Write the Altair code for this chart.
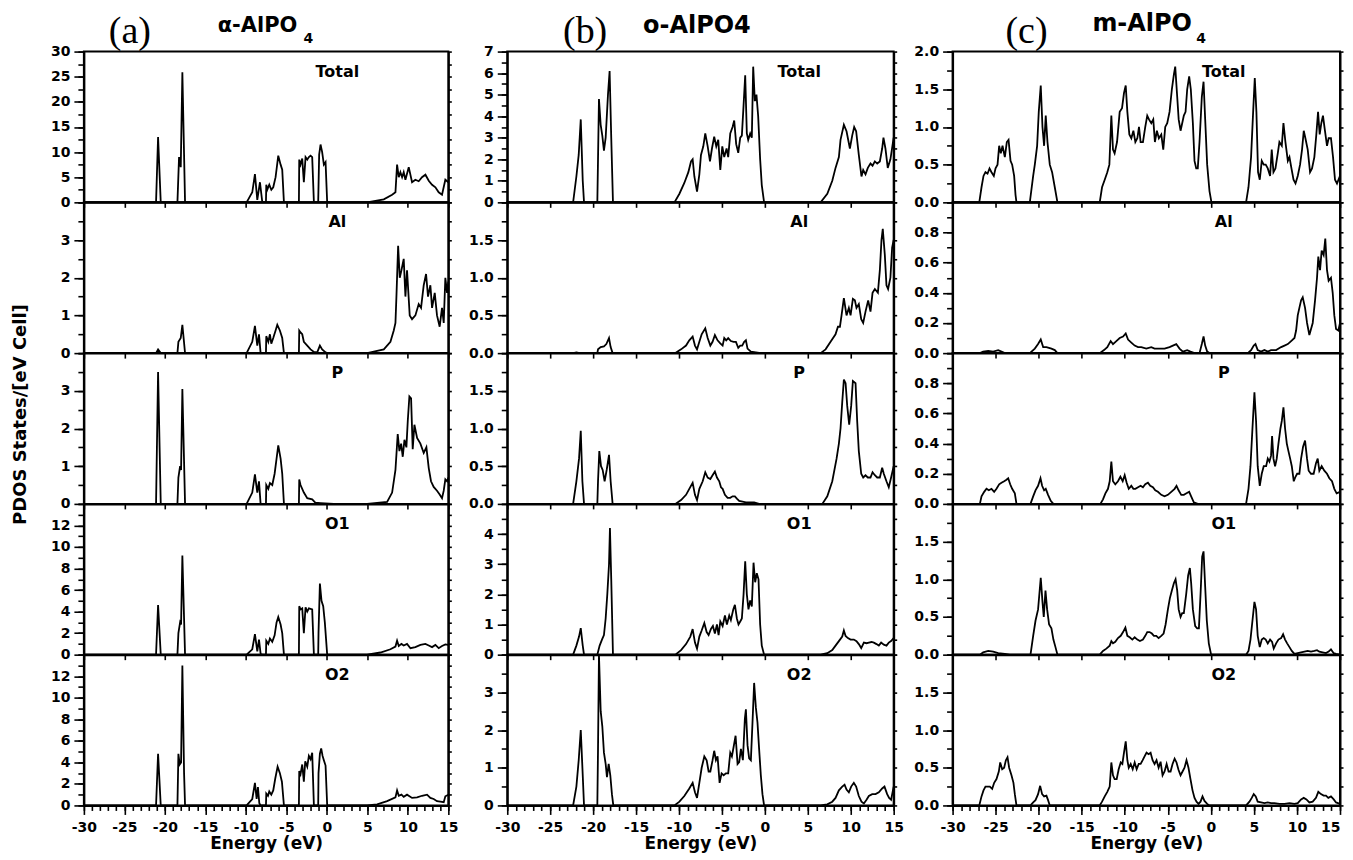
import altair as alt
import pandas as pd
import numpy as np

FONT = "DejaVu Sans"
SERIF = "Liberation Serif"
E_MIN, E_MAX = -30, 15
PANEL_H = 151
ROW_NAMES = ["Total", "Al", "P", "O1", "O2"]

# ---------------- (a) alpha-AlPO4 : (energy eV, PDOS) ----------------
A_TOTAL = [(-30, 0), (-21.09, 0), (-20.84, 13.0), (-20.51, 0), (-18.45, 0), (-18.25, 9.0), (-18.04, 7.0),
           (-17.84, 25.9), (-17.51, 0), (-9.91, 0), (-9.21, 2.0), (-8.88, 5.6), (-8.59, 0.5), (-8.26, 4.0),
           (-7.97, 0), (-7.52, 0), (-7.48, 3.5), (-7.36, 2.5), (-7.11, 3.5), (-6.86, 2.5), (-6.62, 3.0),
           (-6.33, 5.0), (-6.00, 9.3), (-5.71, 7.5), (-5.51, 6.5), (-5.30, 0), (-3.45, 0), (-3.41, 8.5),
           (-3.25, 7.5), (-3.04, 8.7), (-2.84, 4.0), (-2.63, 9.0), (-2.42, 8.5), (-2.22, 9.0), (-2.01, 9.3),
           (-1.81, 9.0), (-1.60, 0), (-1.07, 0), (-0.95, 9.5), (-0.78, 11.5), (-0.58, 10.0), (-0.37, 7.5),
           (-0.16, 8.0), (0.04, 0), (4.97, 0), (7.03, 0.6), (8.06, 1.5), (8.47, 2.0), (8.67, 7.5), (8.88, 5.0),
           (9.08, 6.0), (9.29, 5.0), (9.49, 6.0), (9.70, 4.5), (10.11, 7.0), (10.52, 4.0), (10.93, 4.5),
           (11.34, 4.2), (11.75, 5.0), (12.17, 5.5), (12.58, 4.3), (12.99, 3.5), (13.40, 3.0), (13.81, 2.0),
           (14.22, 1.5), (14.63, 4.5), (15.0, 4.0)]
A_AL = [(-30, 0), (-21.09, 0), (-20.84, 0.1), (-20.51, 0), (-18.45, 0), (-18.33, 0.3), (-18.04, 0.4),
        (-17.84, 0.75), (-17.51, 0), (-9.91, 0), (-9.21, 0.3), (-8.88, 0.72), (-8.59, 0.2), (-8.38, 0.5),
        (-8.18, 0), (-7.52, 0), (-7.48, 0.45), (-7.23, 0.3), (-7.03, 0.5), (-6.86, 0.25), (-6.62, 0.4),
        (-6.33, 0.6), (-6.12, 0.75), (-5.80, 0.6), (-5.51, 0.4), (-5.30, 0), (-3.45, 0), (-3.41, 0.6),
        (-3.25, 0.55), (-3.04, 0.5), (-2.84, 0.3), (-2.42, 0.2), (-2.01, 0.1), (-1.60, 0.03), (-1.19, 0.02),
        (-0.86, 0.2), (-0.58, 0.1), (-0.16, 0.02), (0.04, 0), (4.97, 0), (7.03, 0.1), (7.85, 0.3), (8.26, 0.6),
        (8.47, 0.8), (8.59, 1.5), (8.80, 2.85), (9.00, 2.0), (9.21, 2.2), (9.49, 2.5), (9.70, 1.5), (9.90, 2.2),
        (10.23, 1.0), (10.52, 0.9), (10.93, 1.0), (11.34, 1.3), (11.63, 1.2), (11.96, 1.8), (12.25, 2.1),
        (12.49, 1.5), (12.78, 1.8), (12.99, 1.2), (13.32, 1.6), (13.60, 1.0), (13.93, 0.7), (14.22, 1.2),
        (14.43, 0.8), (14.63, 2.0), (14.84, 1.6), (15.0, 1.9)]
A_P = [(-30, 0), (-21.09, 0), (-20.84, 3.5), (-20.51, 0), (-18.45, 0), (-18.33, 0.7), (-18.12, 1.0),
       (-18.00, 0.9), (-17.84, 3.05), (-17.51, 0), (-9.91, 0), (-9.21, 0.3), (-8.88, 0.78), (-8.59, 0.3),
       (-8.38, 0.6), (-8.18, 0), (-7.52, 0), (-7.48, 0.5), (-7.23, 0.4), (-7.03, 0.55), (-6.74, 0.5),
       (-6.45, 0.8), (-6.21, 1.2), (-6.00, 1.55), (-5.71, 1.2), (-5.51, 0.8), (-5.30, 0), (-3.45, 0),
       (-3.41, 0.65), (-3.25, 0.5), (-2.84, 0.3), (-2.42, 0.15), (-1.81, 0.12), (-1.40, 0.03), (-0.78, 0.02),
       (0.86, 0), (4.97, 0), (7.44, 0.05), (8.06, 0.3), (8.47, 0.9), (8.75, 1.85), (8.96, 1.4), (9.17, 1.6),
       (9.37, 1.25), (9.58, 1.7), (9.82, 1.5), (9.99, 2.2), (10.19, 2.85), (10.40, 2.8), (10.60, 1.45),
       (10.81, 2.1), (11.14, 1.75), (11.55, 1.6), (11.96, 1.35), (12.29, 1.5), (12.58, 0.95), (12.86, 0.6),
       (13.19, 0.45), (13.60, 0.35), (13.93, 0.25), (14.22, 0.15), (14.43, 0.35), (14.63, 0.65), (14.84, 0.6),
       (15.0, 0.7)]
A_O1 = [(-30, 0), (-21.09, 0), (-20.84, 4.6), (-20.51, 0), (-18.45, 0), (-18.33, 2.0), (-18.12, 3.0),
        (-18.00, 2.8), (-17.84, 9.2), (-17.51, 0), (-9.91, 0), (-9.21, 0.5), (-8.88, 1.9), (-8.59, 0.3),
        (-8.38, 1.4), (-8.18, 0.1), (-7.97, 0), (-7.52, 0), (-7.48, 1.3), (-7.23, 1.0), (-7.03, 1.5),
        (-6.74, 1.2), (-6.45, 1.8), (-6.21, 3.0), (-6.00, 3.5), (-5.71, 2.8), (-5.51, 2.0), (-5.30, 0),
        (-3.45, 0), (-3.41, 4.5), (-3.25, 4.2), (-3.04, 4.3), (-2.84, 2.0), (-2.63, 4.4), (-2.42, 4.0),
        (-2.22, 4.3), (-1.81, 4.2), (-1.60, 0), (-1.07, 0), (-1.03, 2.0), (-0.86, 6.6), (-0.66, 5.0),
        (-0.45, 4.5), (-0.25, 3.0), (0.04, 0), (4.97, 0), (6.62, 0.2), (7.85, 0.5), (8.47, 0.75), (8.67, 1.3),
        (8.88, 0.8), (9.21, 1.0), (9.49, 0.85), (9.90, 1.0), (10.32, 0.6), (10.93, 0.7), (11.55, 0.9),
        (12.17, 1.0), (12.58, 0.85), (12.99, 0.7), (13.40, 0.9), (13.81, 0.6), (14.22, 0.8), (14.63, 0.95),
        (15.0, 0.9)]
A_O2 = [(-30, 0), (-21.09, 0), (-20.84, 4.8), (-20.51, 0), (-18.45, 0), (-18.33, 4.8), (-18.17, 3.8),
        (-18.00, 4.0), (-17.84, 13.0), (-17.63, 3.0), (-17.51, 0), (-9.91, 0), (-9.21, 0.6), (-8.88, 2.1),
        (-8.67, 0.6), (-8.51, 1.7), (-8.34, 0.2), (-8.18, 0), (-7.52, 0), (-7.48, 1.1), (-7.27, 0.9),
        (-7.11, 1.3), (-6.86, 1.0), (-6.62, 1.4), (-6.37, 2.5), (-6.08, 3.6), (-5.80, 3.0), (-5.55, 2.2),
        (-5.30, 0), (-3.45, 0), (-3.41, 3.2), (-3.25, 2.9), (-3.04, 3.8), (-2.84, 2.2), (-2.67, 4.1),
        (-2.42, 3.6), (-2.22, 4.6), (-2.01, 4.3), (-1.81, 4.9), (-1.60, 0), (-1.07, 0), (-1.03, 3.0),
        (-0.86, 4.8), (-0.70, 5.3), (-0.53, 4.6), (-0.37, 4.2), (-0.16, 3.7), (0.04, 0), (4.97, 0),
        (6.21, 0.1), (7.44, 0.4), (8.47, 0.75), (8.67, 1.4), (8.88, 0.9), (9.21, 1.0), (9.49, 0.8),
        (9.90, 1.0), (10.52, 0.7), (11.14, 0.75), (11.75, 0.9), (12.37, 1.0), (12.78, 0.7), (13.19, 0.6),
        (13.60, 0.4), (14.02, 0.35), (14.43, 0.3), (14.63, 0.85), (15.0, 1.0)]

# ---------------- (b) o-AlPO4 ----------------
B_TOTAL = [(-30, 0), (-22.33, 0), (-21.95, 1.2), (-21.68, 2.2), (-21.44, 3.85), (-21.21, 1.0), (-21.06, 0),
           (-19.51, 0), (-19.43, 2.0), (-19.32, 4.8), (-19.12, 3.6), (-18.93, 3.1), (-18.74, 2.4), (-18.54, 3.0),
           (-18.27, 5.0), (-18.08, 6.1), (-17.89, 3.0), (-17.69, 0), (-10.53, 0), (-9.95, 0.4), (-9.38, 0.9),
           (-8.91, 1.4), (-8.60, 1.9), (-8.41, 2.0), (-8.21, 1.2), (-7.90, 0.5), (-7.63, 1.3), (-7.44, 2.2),
           (-7.17, 2.6), (-6.94, 3.2), (-6.66, 2.6), (-6.39, 1.9), (-6.16, 2.5), (-5.90, 3.05), (-5.66, 2.6),
           (-5.43, 2.9), (-5.19, 1.5), (-4.96, 2.6), (-4.73, 2.1), (-4.46, 2.5), (-4.27, 2.1), (-4.03, 3.2),
           (-3.76, 3.5), (-3.57, 3.8), (-3.34, 2.7), (-3.10, 2.3), (-2.87, 3.0), (-2.68, 3.1), (-2.48, 4.5),
           (-2.29, 5.9), (-2.10, 3.2), (-1.94, 2.9), (-1.71, 3.2), (-1.52, 3.0), (-1.36, 6.3), (-1.17, 4.7),
           (-0.98, 5.0), (-0.78, 4.0), (-0.55, 2.0), (-0.36, 0.8), (-0.09, 0), (6.49, 0), (7.27, 0.4),
           (7.85, 1.0), (8.23, 1.6), (8.62, 2.1), (8.81, 2.9), (9.20, 3.6), (9.51, 3.3), (9.90, 2.5),
           (10.17, 3.1), (10.40, 3.5), (10.63, 3.3), (10.94, 2.2), (11.25, 1.2), (11.45, 1.5), (11.72, 1.3),
           (11.99, 1.6), (12.30, 1.8), (12.54, 1.7), (12.81, 1.9), (13.08, 1.8), (13.39, 1.9), (13.66, 2.5),
           (13.81, 3.0), (14.04, 2.5), (14.31, 1.6), (14.62, 2.0), (15.0, 3.0)]
B_AL = [(-30, 0), (-22.33, 0), (-21.95, 0.01), (-21.56, 0.0), (-21.37, -0.01), (-21.06, 0), (-19.51, 0),
        (-19.43, 0.05), (-19.12, 0.08), (-18.74, 0.09), (-18.46, 0.12), (-18.15, 0.2), (-17.96, 0.08),
        (-17.73, 0), (-10.42, 0), (-9.76, 0.05), (-9.18, 0.1), (-8.80, 0.17), (-8.41, 0.22), (-8.14, 0.1),
        (-7.90, 0.05), (-7.63, 0.15), (-7.36, 0.25), (-6.94, 0.33), (-6.66, 0.2), (-6.35, 0.1), (-6.09, 0.15),
        (-5.82, 0.24), (-5.51, 0.17), (-5.19, 0.13), (-4.92, 0.1), (-4.73, 0.2), (-4.50, 0.17), (-4.27, 0.2),
        (-3.96, 0.16), (-3.64, 0.15), (-3.37, 0.15), (-3.10, 0.07), (-2.87, 0.1), (-2.64, 0.1), (-2.41, 0.15),
        (-2.21, 0.17), (-2.02, 0.06), (-1.63, 0.02), (-1.05, 0.01), (-0.47, 0), (6.49, 0), (7.07, 0.05),
        (7.65, 0.15), (8.23, 0.25), (8.51, 0.35), (8.74, 0.35), (8.93, 0.5), (9.20, 0.73), (9.51, 0.5),
        (9.78, 0.6), (9.98, 0.5), (10.25, 0.72), (10.48, 0.7), (10.67, 0.6), (10.94, 0.65), (11.22, 0.45),
        (11.45, 0.4), (11.72, 0.55), (12.03, 0.7), (12.30, 0.55), (12.54, 0.8), (12.81, 0.85), (13.16, 0.8),
        (13.39, 1.1), (13.58, 1.5), (13.73, 1.65), (13.97, 1.3), (14.16, 0.9), (14.35, 0.85), (14.62, 1.0),
        (14.82, 1.4), (15.0, 1.5)]
B_P = [(-30, 0), (-22.33, 0), (-21.95, 0.3), (-21.64, 0.6), (-21.44, 0.97), (-21.25, 0.3), (-21.06, 0),
       (-19.51, 0), (-19.43, 0.3), (-19.28, 0.7), (-19.08, 0.5), (-18.89, 0.45), (-18.66, 0.3), (-18.42, 0.45),
       (-18.15, 0.65), (-17.96, 0.3), (-17.73, 0), (-10.42, 0), (-9.76, 0.05), (-9.18, 0.12), (-8.80, 0.2),
       (-8.41, 0.28), (-8.14, 0.12), (-7.90, 0.05), (-7.63, 0.2), (-7.24, 0.3), (-6.94, 0.42), (-6.66, 0.35),
       (-6.35, 0.33), (-6.09, 0.38), (-5.82, 0.43), (-5.58, 0.35), (-5.31, 0.3), (-5.11, 0.22), (-4.92, 0.2),
       (-4.65, 0.12), (-4.34, 0.08), (-4.03, 0.08), (-3.76, 0.1), (-3.49, 0.1), (-3.26, 0.07), (-2.99, 0.04),
       (-2.60, 0.03), (-2.21, 0.02), (-1.83, 0.02), (-1.25, 0.02), (-0.67, 0), (6.69, 0), (7.27, 0.1),
       (7.85, 0.3), (8.35, 0.6), (8.62, 0.8), (8.81, 1.0), (9.01, 1.35), (9.20, 1.65), (9.40, 1.6),
       (9.59, 1.3), (9.82, 1.05), (10.05, 1.3), (10.25, 1.63), (10.56, 1.6), (10.75, 1.1), (10.94, 0.7),
       (11.22, 0.4), (11.45, 0.35), (11.72, 0.38), (11.99, 0.35), (12.30, 0.35), (12.54, 0.42), (12.81, 0.38),
       (13.08, 0.35), (13.39, 0.35), (13.66, 0.48), (13.85, 0.4), (14.16, 0.3), (14.43, 0.22), (14.70, 0.35),
       (15.0, 0.5)]
B_O1 = [(-30, 0), (-22.33, 0), (-21.95, 0.3), (-21.64, 0.6), (-21.44, 0.88), (-21.21, 0.3), (-21.06, 0),
        (-19.51, 0), (-19.24, 0.3), (-18.97, 0.5), (-18.74, 0.65), (-18.54, 1.2), (-18.35, 2.0), (-18.15, 3.0),
        (-18.04, 4.2), (-17.89, 2.5), (-17.69, 0), (-10.42, 0), (-9.76, 0.15), (-9.18, 0.35), (-8.68, 0.6),
        (-8.41, 0.85), (-8.14, 0.4), (-7.90, 0.2), (-7.63, 0.6), (-7.36, 0.8), (-7.05, 1.05), (-6.78, 0.75),
        (-6.55, 0.65), (-6.28, 0.85), (-6.05, 0.95), (-5.82, 0.7), (-5.58, 1.0), (-5.39, 0.65), (-5.19, 1.1),
        (-4.92, 0.95), (-4.65, 1.3), (-4.42, 1.0), (-4.15, 1.3), (-3.96, 1.15), (-3.68, 1.5), (-3.49, 1.65),
        (-3.26, 1.2), (-3.07, 1.0), (-2.87, 1.1), (-2.68, 1.2), (-2.48, 2.0), (-2.29, 3.1), (-2.10, 2.0),
        (-1.91, 1.5), (-1.71, 1.8), (-1.52, 1.6), (-1.32, 3.05), (-1.13, 2.4), (-0.94, 2.7), (-0.74, 2.5),
        (-0.55, 1.0), (-0.36, 0.3), (-0.09, 0), (6.49, 0), (7.27, 0.05), (7.85, 0.15), (8.23, 0.3),
        (8.62, 0.45), (9.01, 0.6), (9.20, 0.8), (9.40, 0.62), (9.67, 0.55), (9.98, 0.5), (10.36, 0.5),
        (10.67, 0.45), (10.94, 0.35), (11.22, 0.22), (11.53, 0.4), (11.84, 0.38), (12.11, 0.4), (12.42, 0.42),
        (12.69, 0.4), (13.00, 0.35), (13.27, 0.3), (13.54, 0.4), (13.85, 0.33), (14.16, 0.3), (14.43, 0.4),
        (14.70, 0.45), (15.0, 0.55)]
B_O2 = [(-30, 0), (-22.33, 0), (-21.95, 0.5), (-21.68, 1.2), (-21.44, 2.0), (-21.21, 0.8), (-21.06, 0),
        (-19.51, 0), (-19.43, 1.5), (-19.32, 4.0), (-19.12, 2.5), (-18.93, 2.1), (-18.74, 1.4), (-18.54, 1.1),
        (-18.39, 0.75), (-18.19, 1.1), (-18.00, 0.8), (-17.81, 0.3), (-17.65, 0), (-10.53, 0), (-9.95, 0.1),
        (-9.38, 0.25), (-8.80, 0.45), (-8.41, 0.6), (-8.14, 0.35), (-7.90, 0.2), (-7.63, 0.6), (-7.36, 1.0),
        (-7.05, 1.3), (-6.78, 1.2), (-6.55, 0.9), (-6.35, 0.9), (-6.09, 1.2), (-5.90, 1.45), (-5.70, 1.2),
        (-5.51, 1.3), (-5.27, 0.6), (-5.04, 0.85), (-4.80, 0.8), (-4.54, 0.85), (-4.27, 0.85), (-4.03, 1.4),
        (-3.84, 1.3), (-3.64, 1.55), (-3.41, 1.85), (-3.18, 1.1), (-2.99, 1.15), (-2.79, 1.5), (-2.56, 1.2),
        (-2.33, 2.3), (-2.21, 2.55), (-2.02, 1.6), (-1.83, 1.25), (-1.63, 1.2), (-1.44, 2.2), (-1.25, 3.25),
        (-1.05, 2.6), (-0.86, 2.2), (-0.67, 1.5), (-0.47, 0.8), (-0.28, 0.3), (-0.09, 0), (6.49, 0),
        (7.27, 0.03), (7.85, 0.1), (8.23, 0.2), (8.62, 0.4), (9.01, 0.5), (9.28, 0.55), (9.51, 0.42),
        (9.78, 0.35), (10.05, 0.5), (10.36, 0.6), (10.63, 0.5), (10.94, 0.25), (11.25, 0.1), (11.53, 0.05),
        (11.84, 0.15), (12.11, 0.25), (12.50, 0.3), (12.89, 0.3), (13.27, 0.35), (13.66, 0.45), (13.93, 0.5),
        (14.24, 0.3), (14.47, 0.2), (14.70, 0.15), (15.0, 0.5)]

# ---------------- (c) m-AlPO4 ----------------
C_TOTAL = [(-30, 0), (-26.90, 0), (-26.64, 0.2), (-26.41, 0.35), (-26.18, 0.4), (-25.94, 0.38), (-25.71, 0.45),
           (-25.48, 0.4), (-25.21, 0.35), (-25.01, 0.45), (-24.78, 0.5), (-24.59, 0.75), (-24.40, 0.65),
           (-24.20, 0.75), (-23.93, 0.6), (-23.70, 0.8), (-23.50, 0.83), (-23.27, 0.55), (-23.08, 0.5),
           (-22.85, 0.35), (-22.69, 0.1), (-22.58, 0), (-21.03, 0), (-20.64, 0.35), (-20.45, 0.5), (-20.18, 0.75),
           (-19.99, 1.2), (-19.76, 1.55), (-19.56, 1.0), (-19.37, 0.75), (-19.18, 1.15), (-18.98, 0.8),
           (-18.71, 0.5), (-18.44, 0.4), (-18.13, 0.2), (-17.82, 0), (-12.91, 0), (-12.64, 0.2), (-12.33, 0.3),
           (-12.03, 0.4), (-11.79, 0.5), (-11.56, 1.15), (-11.37, 0.7), (-11.18, 0.65), (-10.90, 0.8),
           (-10.59, 1.2), (-10.32, 1.25), (-10.09, 1.45), (-9.89, 1.55), (-9.70, 1.2), (-9.47, 0.9), (-9.24, 0.85),
           (-9.00, 0.95), (-8.77, 0.8), (-8.54, 0.85), (-8.35, 1.0), (-8.16, 0.8), (-7.89, 0.8), (-7.62, 1.0),
           (-7.39, 1.15), (-7.19, 1.1), (-6.92, 1.05), (-6.69, 1.1), (-6.50, 0.8), (-6.27, 0.95), (-6.04, 0.85),
           (-5.76, 0.9), (-5.53, 0.7), (-5.30, 1.0), (-5.07, 1.05), (-4.80, 1.2), (-4.53, 1.5), (-4.29, 1.7),
           (-4.14, 1.8), (-3.91, 1.4), (-3.74, 1.1), (-3.52, 0.95), (-3.33, 1.05), (-3.14, 1.15), (-2.94, 1.2),
           (-2.75, 1.5), (-2.52, 1.67), (-2.33, 1.5), (-2.09, 1.05), (-1.90, 0.55), (-1.70, 0.45), (-1.52, 0.45),
           (-1.32, 0.8), (-1.05, 1.4), (-0.85, 1.6), (-0.66, 1.1), (-0.43, 0.5), (-0.16, 0.15), (0.07, 0),
           (4.09, 0), (4.37, 0.2), (4.67, 0.6), (4.91, 1.2), (5.10, 1.65), (5.29, 1.2), (5.48, 0.4), (5.68, 0.3),
           (5.91, 0.55), (6.14, 0.5), (6.37, 0.5), (6.61, 0.45), (6.88, 0.35), (7.07, 0.7), (7.27, 0.4),
           (7.50, 0.45), (7.77, 0.65), (7.96, 0.8), (8.24, 0.75), (8.43, 1.05), (8.66, 0.8), (8.94, 0.55),
           (9.13, 0.6), (9.36, 0.45), (9.60, 0.3), (9.83, 0.25), (10.09, 0.35), (10.36, 0.5), (10.59, 0.7),
           (10.79, 0.95), (10.98, 0.85), (11.25, 0.7), (11.52, 0.4), (11.75, 0.45), (12.02, 0.6), (12.25, 0.9),
           (12.45, 1.2), (12.64, 0.9), (12.83, 1.05), (13.02, 1.15), (13.25, 0.95), (13.49, 0.75), (13.68, 0.85),
           (13.95, 0.85), (14.19, 0.6), (14.42, 0.3), (14.65, 0.25), (15.0, 0.35)]
C_AL = [(-30, 0), (-26.83, 0), (-26.45, 0.01), (-25.86, 0.015), (-25.28, 0.01), (-24.70, 0.02), (-24.32, 0.01),
        (-23.93, 0), (-21.03, 0), (-20.45, 0.03), (-20.07, 0.06), (-19.76, 0.09), (-19.48, 0.04), (-19.10, 0.04),
        (-18.52, 0.03), (-18.13, 0.02), (-17.82, 0), (-12.91, 0), (-12.41, 0.02), (-12.03, 0.04), (-11.64, 0.08),
        (-11.37, 0.06), (-10.98, 0.08), (-10.59, 0.1), (-10.20, 0.11), (-9.89, 0.13), (-9.62, 0.09),
        (-9.24, 0.07), (-8.85, 0.05), (-8.46, 0.04), (-8.08, 0.04), (-7.50, 0.03), (-6.92, 0.04), (-6.54, 0.03),
        (-5.96, 0.03), (-5.38, 0.03), (-4.80, 0.04), (-4.41, 0.05), (-4.02, 0.06), (-3.64, 0.03), (-3.25, 0.01),
        (-2.75, 0.02), (-2.37, 0.01), (-1.90, 0.0), (-1.32, 0.0), (-1.05, 0.06), (-0.85, 0.11), (-0.66, 0.05),
        (-0.43, 0.01), (-0.16, 0), (4.29, 0), (4.67, 0.02), (4.98, 0.05), (5.18, 0.06), (5.44, 0.02),
        (5.83, 0.01), (6.22, 0.02), (6.61, 0.01), (6.99, 0.02), (7.58, 0.02), (8.16, 0.04), (8.55, 0.05),
        (8.94, 0.06), (9.32, 0.08), (9.71, 0.1), (9.90, 0.15), (10.09, 0.25), (10.28, 0.3), (10.48, 0.35),
        (10.67, 0.37), (10.94, 0.3), (11.17, 0.2), (11.44, 0.12), (11.83, 0.2), (12.10, 0.35), (12.33, 0.5),
        (12.48, 0.64), (12.68, 0.55), (12.87, 0.68), (13.10, 0.65), (13.29, 0.76), (13.49, 0.55), (13.68, 0.48),
        (13.95, 0.5), (14.15, 0.4), (14.34, 0.25), (14.54, 0.16), (14.81, 0.15), (15.0, 0.2)]
C_P = [(-30, 0), (-26.83, 0), (-26.64, 0.05), (-26.33, 0.08), (-26.06, 0.1), (-25.79, 0.09), (-25.48, 0.1),
       (-25.17, 0.08), (-24.90, 0.1), (-24.59, 0.13), (-24.32, 0.14), (-24.01, 0.15), (-23.74, 0.16),
       (-23.54, 0.17), (-23.31, 0.13), (-23.08, 0.1), (-22.77, 0.07), (-22.58, 0), (-20.95, 0), (-20.64, 0.05),
       (-20.37, 0.09), (-20.07, 0.12), (-19.79, 0.17), (-19.60, 0.12), (-19.37, 0.09), (-19.18, 0.1),
       (-18.91, 0.06), (-18.60, 0.02), (-18.29, 0), (-12.83, 0), (-12.53, 0.03), (-12.25, 0.07), (-11.95, 0.1),
       (-11.75, 0.15), (-11.56, 0.28), (-11.37, 0.15), (-11.10, 0.13), (-10.79, 0.15), (-10.51, 0.18),
       (-10.24, 0.15), (-10.01, 0.19), (-9.78, 0.14), (-9.54, 0.1), (-9.24, 0.12), (-9.00, 0.1), (-8.77, 0.1),
       (-8.46, 0.11), (-8.16, 0.12), (-7.89, 0.11), (-7.62, 0.13), (-7.31, 0.14), (-7.04, 0.12), (-6.73, 0.11),
       (-6.46, 0.09), (-6.15, 0.08), (-5.76, 0.06), (-5.38, 0.05), (-4.99, 0.06), (-4.60, 0.08), (-4.21, 0.1),
       (-3.99, 0.12), (-3.75, 0.09), (-3.44, 0.06), (-3.14, 0.06), (-2.83, 0.07), (-2.52, 0.08), (-2.29, 0.05),
       (-1.98, 0.01), (-1.52, 0.0), (4.09, 0), (4.37, 0.1), (4.60, 0.25), (4.83, 0.5), (5.06, 0.74), (5.25, 0.55),
       (5.44, 0.25), (5.68, 0.12), (5.91, 0.2), (6.14, 0.25), (6.42, 0.25), (6.61, 0.3), (6.80, 0.28),
       (6.99, 0.32), (7.11, 0.45), (7.27, 0.3), (7.46, 0.25), (7.65, 0.3), (7.85, 0.4), (8.08, 0.5), (8.24, 0.55),
       (8.43, 0.64), (8.62, 0.5), (8.82, 0.4), (9.01, 0.35), (9.21, 0.3), (9.40, 0.25), (9.63, 0.15),
       (9.83, 0.18), (10.02, 0.2), (10.28, 0.2), (10.48, 0.3), (10.71, 0.38), (10.94, 0.42), (11.17, 0.3),
       (11.36, 0.22), (11.63, 0.2), (11.94, 0.2), (12.21, 0.27), (12.41, 0.3), (12.60, 0.22), (12.87, 0.25),
       (13.18, 0.22), (13.49, 0.2), (13.76, 0.17), (14.07, 0.15), (14.34, 0.1), (14.61, 0.07), (15.0, 0.08)]
C_O1 = [(-30, 0), (-26.83, 0), (-26.45, 0.03), (-25.86, 0.05), (-25.28, 0.04), (-24.70, 0.02), (-23.93, 0.01),
        (-23.35, 0), (-20.95, 0), (-20.64, 0.25), (-20.37, 0.45), (-20.07, 0.6), (-19.76, 1.02), (-19.56, 0.7),
        (-19.41, 0.5), (-19.21, 0.85), (-19.02, 0.6), (-18.79, 0.4), (-18.52, 0.35), (-18.29, 0.2),
        (-18.05, 0.1), (-17.82, 0), (-12.91, 0), (-12.53, 0.05), (-12.14, 0.08), (-11.75, 0.12), (-11.56, 0.18),
        (-11.37, 0.15), (-11.10, 0.17), (-10.79, 0.22), (-10.47, 0.25), (-10.20, 0.3), (-9.93, 0.36),
        (-9.70, 0.25), (-9.43, 0.23), (-9.12, 0.2), (-8.85, 0.23), (-8.54, 0.2), (-8.24, 0.18), (-7.89, 0.2),
        (-7.62, 0.25), (-7.39, 0.3), (-7.12, 0.3), (-6.85, 0.28), (-6.62, 0.25), (-6.34, 0.25), (-6.07, 0.22),
        (-5.76, 0.25), (-5.49, 0.28), (-5.26, 0.4), (-4.99, 0.6), (-4.76, 0.75), (-4.53, 0.85), (-4.29, 0.95),
        (-4.10, 1.0), (-3.91, 0.85), (-3.74, 0.6), (-3.52, 0.5), (-3.33, 0.55), (-3.14, 0.55), (-2.87, 0.8),
        (-2.64, 1.05), (-2.44, 1.15), (-2.29, 0.95), (-2.09, 0.6), (-1.82, 0.38), (-1.59, 0.35), (-1.39, 0.35),
        (-1.20, 0.8), (-1.01, 1.3), (-0.85, 1.37), (-0.66, 0.9), (-0.47, 0.45), (-0.24, 0.15), (0.03, 0),
        (4.09, 0), (4.37, 0.05), (4.60, 0.2), (4.83, 0.45), (5.06, 0.7), (5.25, 0.6), (5.44, 0.25), (5.68, 0.1),
        (5.91, 0.2), (6.14, 0.22), (6.37, 0.2), (6.61, 0.15), (6.88, 0.2), (7.11, 0.17), (7.30, 0.08),
        (7.58, 0.15), (7.85, 0.2), (8.16, 0.22), (8.39, 0.27), (8.62, 0.2), (8.86, 0.15), (9.13, 0.1),
        (9.40, 0.05), (9.71, 0.01), (10.09, 0.02), (10.48, 0.03), (10.86, 0.04), (11.25, 0.05), (11.63, 0.04),
        (12.02, 0.05), (12.33, 0.06), (12.60, 0.04), (12.98, 0.03), (13.37, 0.02), (13.68, 0.04), (13.95, 0.07),
        (14.27, 0.02), (14.54, 0.01), (15.0, 0.0)]
C_O2 = [(-30, 0), (-26.90, 0), (-26.64, 0.12), (-26.41, 0.2), (-26.18, 0.25), (-25.94, 0.25), (-25.67, 0.25),
        (-25.40, 0.22), (-25.17, 0.3), (-24.90, 0.35), (-24.63, 0.45), (-24.47, 0.57), (-24.24, 0.48),
        (-24.01, 0.5), (-23.81, 0.6), (-23.62, 0.64), (-23.43, 0.5), (-23.16, 0.4), (-22.93, 0.3), (-22.77, 0.15),
        (-22.58, 0), (-20.95, 0), (-20.64, 0.04), (-20.37, 0.07), (-20.07, 0.15), (-19.83, 0.26), (-19.60, 0.15),
        (-19.37, 0.12), (-19.10, 0.13), (-18.91, 0.07), (-18.71, 0), (-12.91, 0), (-12.64, 0.05), (-12.33, 0.12),
        (-12.03, 0.18), (-11.75, 0.25), (-11.56, 0.57), (-11.37, 0.4), (-11.18, 0.35), (-10.94, 0.35),
        (-10.71, 0.48), (-10.47, 0.57), (-10.28, 0.55), (-10.09, 0.7), (-9.89, 0.85), (-9.70, 0.6), (-9.54, 0.5),
        (-9.31, 0.55), (-9.08, 0.48), (-8.85, 0.57), (-8.62, 0.48), (-8.38, 0.55), (-8.16, 0.55), (-7.92, 0.6),
        (-7.70, 0.65), (-7.47, 0.7), (-7.23, 0.68), (-7.00, 0.7), (-6.77, 0.6), (-6.54, 0.55), (-6.31, 0.6),
        (-6.07, 0.5), (-5.84, 0.58), (-5.61, 0.4), (-5.38, 0.45), (-5.14, 0.55), (-4.91, 0.45), (-4.68, 0.45),
        (-4.45, 0.55), (-4.21, 0.62), (-3.99, 0.57), (-3.75, 0.47), (-3.52, 0.4), (-3.29, 0.45), (-3.06, 0.5),
        (-2.83, 0.6), (-2.60, 0.5), (-2.37, 0.35), (-2.13, 0.2), (-1.90, 0.1), (-1.67, 0.05), (-1.43, 0.02),
        (-1.20, 0.05), (-0.97, 0.12), (-0.74, 0.06), (-0.43, 0.02), (-0.16, 0), (4.09, 0), (4.48, 0.05),
        (4.75, 0.1), (4.98, 0.15), (5.21, 0.12), (5.44, 0.05), (5.83, 0.04), (6.22, 0.03), (6.61, 0.04),
        (6.99, 0.03), (7.38, 0.03), (7.96, 0.02), (8.55, 0.02), (9.13, 0.03), (9.71, 0.02), (10.09, 0.03),
        (10.48, 0.08), (10.79, 0.1), (11.10, 0.08), (11.44, 0.04), (11.83, 0.05), (12.21, 0.1), (12.48, 0.18),
        (12.79, 0.15), (13.10, 0.13), (13.37, 0.13), (13.64, 0.1), (13.95, 0.12), (14.27, 0.08), (14.54, 0.04),
        (15.0, 0.02)]

X_MAJOR = [-30, -25, -20, -15, -10, -5, 0, 5, 10, 15]
X_MINOR = list(range(-30, 16))

COLUMNS = [
    {"key": "a", "letter": "(a)", "title": "α-AlPO", "sub": "4", "width": 365, "label_e": 1.3,
     "letter_x": 46, "title_x": 134, "title_y": -20, "title_size": 21, "sub_x": 220, "sub_y": -9,
     "rows": [(A_TOTAL, 30, 5, 2.5, "d"), (A_AL, 4, 1, 0.5, "d"), (A_P, 4, 1, 0.5, "d"),
              (A_O1, 14, 2, 1, "d"), (A_O2, 14, 2, 1, "d")]},
    {"key": "b", "letter": "(b)", "title": "o-AlPO4", "sub": "", "width": 387, "label_e": 4.0,
     "letter_x": 78, "title_x": 136, "title_y": -19, "title_size": 24, "sub_x": 0, "sub_y": 0,
     "rows": [(B_TOTAL, 7, 1, 0.5, "d"), (B_AL, 2, 0.5, 0.25, ".1f"), (B_P, 2, 0.5, 0.25, ".1f"),
              (B_O1, 5, 1, 0.5, "d"), (B_O2, 4, 1, 0.5, "d")]},
    {"key": "c", "letter": "(c)", "title": "m-AlPO", "sub": "4", "width": 388, "label_e": 1.5,
     "letter_x": 74, "title_x": 140, "title_y": -21, "title_size": 24, "sub_x": 244, "sub_y": -9,
     "rows": [(C_TOTAL, 2, 0.5, 0.25, ".1f"), (C_AL, 1, 0.2, 0.1, ".1f"), (C_P, 1, 0.2, 0.1, ".1f"),
              (C_O1, 2, 0.5, 0.25, ".1f"), (C_O2, 2, 0.5, 0.25, ".1f")]},
]


def ticks(ymax, step):
    n = int(round(ymax / step))
    return [round(i * step, 4) for i in range(n + 1)]


def make_panel(col, r):
    pairs, ymax, major, minor, fmt = col["rows"][r]
    top, bottom = r == 0, r == 4
    df = pd.DataFrame(pairs, columns=["E", "V"])
    xs = alt.Scale(domain=[E_MIN, E_MAX], nice=False, zero=False)
    ys = alt.Scale(domain=[0, ymax], nice=False, zero=False)
    majors = ticks(ymax, major)
    minors = ticks(ymax, minor)
    yvals = majors if top else majors[:-1]

    ykw = dict(values=yvals, format=fmt, tickSize=10, labelPadding=4, labelFontSize=14,
               orient="left", labelFlush=False, labelOverlap=False, title=None)
    if col["key"] == "a" and r == 2:
        ykw.update(title="PDOS States/[eV Cell]", titleX=-54, titleY=61, titleAngle=270,
                   titleAlign="center", titleBaseline="bottom", titleFontSize=18)
    if bottom:
        xkw = dict(values=X_MAJOR, labelExpr="toString(datum.value)", tickSize=9, labelPadding=6,
                   labelFontSize=14, title="Energy (eV)", titleFontSize=17, titlePadding=1,
                   labelFlush=False, labelOverlap=False, orient="bottom")
        if col["key"] == "c":
            # last label kept inside the page width
            xkw["labelAlign"] = {"condition": {"test": "datum.value == 15", "value": "right"}, "value": "center"}
        xaxis = alt.Axis(**xkw)
        xminor = alt.Axis(values=X_MINOR, labels=False, tickSize=5, domain=False, title=None, orient="bottom")
    else:
        xaxis = alt.Axis(values=X_MAJOR, labels=False, tickSize=5, title=None, orient="bottom")
        xminor = None

    line = alt.Chart(df).mark_line(color="black", strokeWidth=1.8, clip=True).encode(
        x=alt.X("E:Q", scale=xs, axis=xaxis),
        y=alt.Y("V:Q", scale=ys, axis=alt.Axis(**ykw)),
    )
    minor_layer = alt.Chart(df).mark_line(strokeOpacity=0).encode(
        x=alt.X("E:Q", scale=xs, axis=xminor),
        y=alt.Y("V:Q", scale=ys, axis=alt.Axis(values=minors, labels=False, tickSize=6, domain=False,
                                                  title=None, orient="left")),
    )
    right_layer = alt.Chart(df).mark_line(strokeOpacity=0).encode(
        x=alt.X("E:Q", scale=xs, axis=None),
        y=alt.Y("V:Q", scale=ys, axis=alt.Axis(values=minors, labels=False, tickSize=3, domain=True,
                                                  title=None, orient="right")),
    )
    lab = alt.Chart(pd.DataFrame({"E": [col["label_e"]], "t": [ROW_NAMES[r]]})).mark_text(
        font=FONT, fontWeight="bold", fontSize=16, align="center", baseline="middle", color="black"
    ).encode(x=alt.X("E:Q", scale=xs, axis=None), y=alt.value(20), text="t:N")

    layers = [line, minor_layer, right_layer, lab]
    if top:
        layers.append(alt.Chart(pd.DataFrame({"t": [col["letter"]]})).mark_text(
            font=SERIF, fontSize=38, align="center", baseline="alphabetic", color="black"
        ).encode(x=alt.value(col["letter_x"]), y=alt.value(-9), text="t:N"))
        layers.append(alt.Chart(pd.DataFrame({"t": [col["title"]]})).mark_text(
            font=FONT, fontWeight="bold", fontSize=col["title_size"], align="left", baseline="alphabetic",
            color="black"
        ).encode(x=alt.value(col["title_x"]), y=alt.value(col["title_y"]), text="t:N"))
        if col["sub"]:
            layers.append(alt.Chart(pd.DataFrame({"t": [col["sub"]]})).mark_text(
                font=FONT, fontWeight="bold", fontSize=14, align="left", baseline="alphabetic", color="black"
            ).encode(x=alt.value(col["sub_x"]), y=alt.value(col["sub_y"]), text="t:N"))

    return alt.layer(*layers).properties(width=col["width"], height=PANEL_H).resolve_axis(
        x="independent", y="independent")


panels = []
for r in range(5):
    for col in COLUMNS:
        panels.append(make_panel(col, r))

chart = alt.concat(*panels, columns=3, spacing={"row": 0, "column": 59}, bounds="flush").properties(
    padding={"left": 3, "top": 2, "right": 0, "bottom": 0}
).configure_view(stroke="black", strokeWidth=2).configure_axis(
    domainColor="black", domainWidth=2, tickColor="black", tickWidth=1.6, labelColor="black",
    labelFont=FONT, labelFontWeight="bold", titleFont=FONT, titleFontWeight="bold", titleColor="black",
    grid=False
)

chart.save("out.html", embed_options={"renderer": "svg", "actions": False})
